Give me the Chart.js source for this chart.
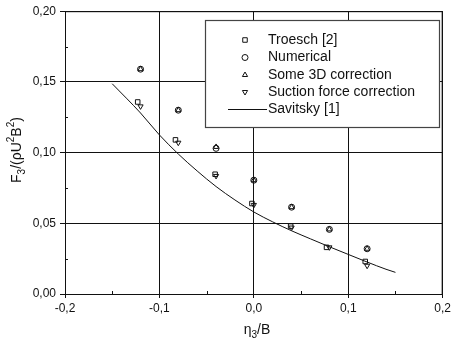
<!DOCTYPE html>
<html><head><meta charset="utf-8">
<script src="https://cdn.jsdelivr.net/npm/chart.js@4"></script>
<style>html,body{margin:0;padding:0;background:#fff}#wrap{width:454px;height:343px;position:relative}</style>
</head><body><div id="wrap"><canvas id="c"></canvas></div>
<script>
const etaX = [-0.12, -0.08, -0.04, 0.0, 0.04, 0.08, 0.12];
const troeschX = [-0.123, -0.083, -0.041, -0.002, 0.039, 0.077, 0.118];
const troeschY = [0.1358, 0.109, 0.0847, 0.064, 0.048, 0.033, 0.023];
const numericalY = [0.159, 0.130, 0.103, 0.0805, 0.0614, 0.0457, 0.032];
const some3dY = [0.159, 0.130, 0.104, 0.0805, 0.0614, 0.0457, 0.032];
const suctionY = [0.1327, 0.107, 0.0835, 0.063, 0.047, 0.033, 0.020];
const savitskyX = [-0.15, -0.12, -0.10, -0.08, -0.06, -0.04, -0.02, 0.0, 0.02, 0.04, 0.06, 0.08, 0.10, 0.12, 0.14, 0.15];
const savitskyY = [0.1487, 0.128, 0.1125, 0.099, 0.087, 0.076, 0.0665, 0.058, 0.051, 0.0447, 0.039, 0.0334, 0.028, 0.0226, 0.0175, 0.0153];
const xTicks = [-0.2, -0.1, 0.0, 0.1, 0.2];
const yTicks = [0.00, 0.05, 0.10, 0.15, 0.20];
const legendLabels = ['Troesch [2]', 'Numerical', 'Some 3D correction', 'Suction force correction', 'Savitsky [1]'];

const pts = (xs, ys) => xs.map((x, i) => ({x, y: ys[i]}));
const FONT = '"Liberation Sans", Arial, sans-serif';
const INK = '#111';

function mk(label, data, style, rot) {
  return {label, data, type: 'scatter', showLine: false, pointStyle: style, rotation: rot || 0,
    pointRadius: style === 'rect' ? 3.2 : 3, borderColor: INK, borderWidth: 1, backgroundColor: 'rgba(0,0,0,0)'};
}

const extras = {
  id: 'extras',
  afterDraw(chart) {
    const ctx = chart.ctx, a = chart.chartArea, xs = chart.scales.x, ys = chart.scales.y;
    ctx.save();
    ctx.strokeStyle = INK; ctx.lineWidth = 1;
    ctx.beginPath();
    ctx.moveTo(a.left, a.top + 0.5); ctx.lineTo(a.right, a.top + 0.5);
    ctx.moveTo(a.right - 0.5, a.top); ctx.lineTo(a.right - 0.5, a.bottom);
    ctx.stroke();
    ctx.beginPath();
    for (let v = -0.15; v < 0.2; v += 0.1) {
      const px = Math.round(xs.getPixelForValue(v)) + 0.5;
      ctx.moveTo(px, a.bottom); ctx.lineTo(px, a.bottom - 3);
    }
    for (let v = 0.025; v < 0.2; v += 0.05) {
      const py = Math.round(ys.getPixelForValue(v)) + 0.5;
      ctx.moveTo(a.left, py); ctx.lineTo(a.left + 3, py);
    }
    ctx.stroke();
    const bx = 205, by = 20, bw = 234, bh = 107;
    ctx.fillStyle = '#fff'; ctx.fillRect(bx, by, bw, bh);
    ctx.strokeStyle = '#444'; ctx.lineWidth = 1.2; ctx.strokeRect(bx + 0.5, by + 0.5, bw, bh);
    ctx.font = '14px ' + FONT; ctx.textBaseline = 'middle'; ctx.textAlign = 'left';
    const rowY = [40, 57.5, 75, 92, 109];
    const styles = ['rect', 'circle', 'triangle', 'triangle', null];
    const rots = [0, 0, 0, 180, 0];
    ctx.strokeStyle = INK; ctx.lineWidth = 1;
    legendLabels.forEach((t, i) => {
      const y = rowY[i];
      if (styles[i]) {
        ctx.fillStyle = 'rgba(0,0,0,0)';
        Chart.helpers.drawPoint(ctx, {pointStyle: styles[i], rotation: rots[i], radius: styles[i] === 'rect' ? 3.2 : 3, borderWidth: 1}, 245, y);
      } else {
        ctx.beginPath(); ctx.moveTo(228, y + 0.5); ctx.lineTo(267, y + 0.5); ctx.stroke();
      }
      ctx.fillStyle = INK;
      ctx.fillText(t, 268, y);
    });
    const drawRich = (parts, x, y, rotate) => {
      ctx.save();
      ctx.translate(x, y);
      if (rotate) ctx.rotate(-Math.PI / 2);
      let total = 0;
      parts.forEach(p => { ctx.font = (p[1] ? '10px ' : '14px ') + FONT; total += ctx.measureText(p[0]).width; });
      let cx = -total / 2;
      ctx.textAlign = 'left'; ctx.textBaseline = 'alphabetic';
      parts.forEach(p => {
        ctx.font = (p[1] ? '10px ' : '14px ') + FONT;
        const dy = p[1] === 'sub' ? 4 : p[1] === 'sup' ? -7 : 0;
        ctx.fillText(p[0], cx, 5 + dy);
        cx += ctx.measureText(p[0]).width;
      });
      ctx.restore();
    };
    ctx.fillStyle = INK;
    drawRich([['F'], ['3', 'sub'], ['/(ρU'], ['2', 'sup'], ['B'], ['2', 'sup'], [')']], 16, 150, true);
    drawRich([['η'], ['3', 'sub'], ['/B']], 257, 329, false);
    ctx.restore();
  }
};

new Chart(document.getElementById('c'), {
  type: 'scatter',
  data: {
    datasets: [
      {label: 'Savitsky [1]', type: 'line', data: pts(savitskyX, savitskyY), borderColor: INK, borderWidth: 1, pointRadius: 0, cubicInterpolationMode: 'monotone', fill: false},
      mk('Troesch [2]', pts(troeschX, troeschY), 'rect'),
      mk('Numerical', pts(etaX, numericalY), 'circle'),
      mk('Some 3D correction', pts(etaX, some3dY), 'triangle'),
      mk('Suction force correction', pts(etaX, suctionY), 'triangle', 180)
    ]
  },
  options: {
    responsive: true, maintainAspectRatio: false, animation: false,
    layout: {padding: {top: 11, right: 5, left: 0, bottom: 0}},
    plugins: {legend: {display: false}, tooltip: {enabled: false}},
    scales: {
      x: {
        type: 'linear', min: -0.2, max: 0.2,
        afterBuildTicks: s => { s.ticks = xTicks.map(v => ({value: v})); },
        ticks: {callback: v => v.toFixed(1).replace('.', ','), font: {family: FONT, size: 12}, color: INK, padding: 3, maxRotation: 0, autoSkip: false},
        grid: {color: INK, lineWidth: 1, tickLength: 4, tickColor: INK},
        border: {color: INK, width: 1},
        afterFit: s => { s.height = 49; }
      },
      y: {
        type: 'linear', min: 0, max: 0.2,
        afterBuildTicks: s => { s.ticks = yTicks.map(v => ({value: v})); },
        ticks: {callback: v => v.toFixed(2).replace('.', ','), font: {family: FONT, size: 12}, color: INK, padding: 4},
        grid: {color: INK, lineWidth: 1, tickLength: 5, tickColor: INK},
        border: {color: INK, width: 1},
        afterFit: s => { s.width = 65; }
      }
    }
  },
  plugins: [extras]
});
</script></body></html>
